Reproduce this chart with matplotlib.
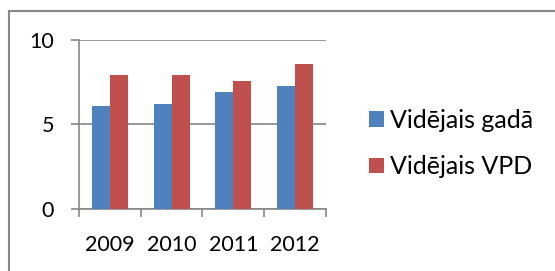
import matplotlib.pyplot as plt
import numpy as np
from matplotlib.lines import Line2D
from matplotlib.patches import Patch

years = ["2009", "2010", "2011", "2012"]
videjais_gada = [6.1, 6.2, 6.9, 7.3]
videjais_vpd = [7.95, 7.9, 7.6, 8.6]
series_names = ["Vidējais gadā", "Vidējais VPD"]
colors = ["#4F81BD", "#C0504D"]

plt.rcParams['font.family'] = ['Lato', 'DejaVu Sans']

fig = plt.figure(figsize=(5.55, 2.71), dpi=100)
ax = fig.add_axes([0.1423, 0.2288, 0.4451, 0.6236])

x = np.arange(len(years))
w = 0.29
ax.bar(x - w / 2, videjais_gada, w, color=colors[0], zorder=3)
ax.bar(x + w / 2, videjais_vpd, w, color=colors[1], zorder=3)

ax.set_xlim(-0.5, len(years) - 0.5)
ax.set_ylim(0, 10)
ax.set_yticks([0, 5, 10])
ax.yaxis.grid(True, color="#868686", linewidth=1.2, zorder=0)

# category labels centred, tick marks at category boundaries
ax.set_xticks(x)
ax.set_xticklabels(years)
ax.tick_params(axis="x", length=0, pad=19, labelsize=15.5)
ax.set_xticks(np.arange(-0.5, len(years)), minor=True)
ax.tick_params(axis="x", which="minor", length=6, width=1.2, color="#868686", direction="out")
ax.tick_params(axis="y", length=6, width=1.2, color="#868686", pad=12, labelsize=15.5)

for s in ["top", "right"]:
    ax.spines[s].set_visible(False)
ax.spines["left"].set_color("#868686")
ax.spines["left"].set_linewidth(1.2)
ax.spines["bottom"].set_color("#868686")
ax.spines["bottom"].set_linewidth(1.2)

handles = [Patch(facecolor=c) for c in colors]
fig.legend(handles, series_names, loc="center left", bbox_to_anchor=(0.665, 0.4705),
           frameon=False, fontsize=18, handlelength=0.6, handleheight=0.6,
           handletextpad=0.22, labelspacing=0.95, borderpad=0, borderaxespad=0)

# outer chart frame (left and top edges visible)
fig.add_artist(Line2D([9 / 555, 9 / 555], [0, 1 - 11 / 271], color="#888888", linewidth=1.5))
fig.add_artist(Line2D([9 / 555, 1], [1 - 11 / 271, 1 - 11 / 271], color="#888888", linewidth=1.5))

fig.savefig("out.png", dpi=100)
